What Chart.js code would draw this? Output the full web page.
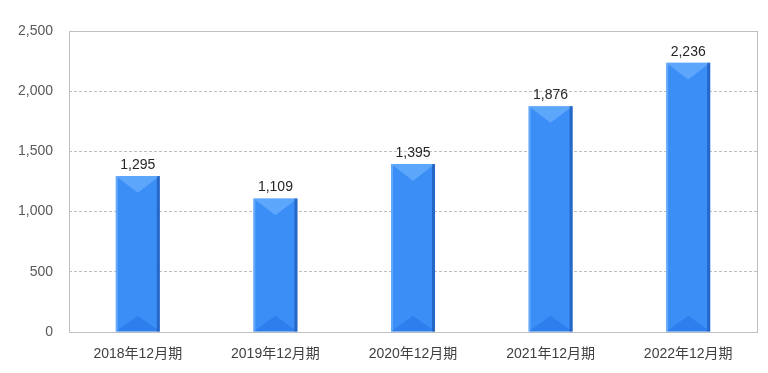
<!DOCTYPE html>
<html><head><meta charset="utf-8">
<script src="https://cdn.jsdelivr.net/npm/chart.js@4/dist/chart.umd.min.js"></script>
<style>html,body{margin:0;padding:0;background:#fff;}#wrap{width:768px;height:373px;}</style>
</head><body><div id="wrap"><canvas id="c" width="768" height="373"></canvas></div>
<script>
const categories = ["2018年12月期","2019年12月期","2020年12月期","2021年12月期","2022年12月期"];
const values = [1295, 1109, 1395, 1876, 2236];
const yTicks = [0, 500, 1000, 1500, 2000, 2500];

const FONT = "'Liberation Sans','Noto Sans CJK JP',sans-serif";

const bevelPlugin = {
  id: 'bevel',
  afterDatasetsDraw(chart) {
    const ctx = chart.ctx;
    const meta = chart.getDatasetMeta(0);
    meta.data.forEach((bar, i) => {
      const l = bar.x - bar.width / 2, r = bar.x + bar.width / 2;
      const t = bar.y, b = bar.base;
      const w = r - l;
      ctx.save();
      // top bevel
      ctx.fillStyle = 'rgba(125,190,255,0.5)';
      ctx.beginPath(); ctx.moveTo(l, t); ctx.lineTo(r, t); ctx.lineTo(bar.x, t + w * 0.38); ctx.closePath(); ctx.fill();
      // bottom bevel
      ctx.fillStyle = 'rgba(30,105,225,0.4)';
      ctx.beginPath(); ctx.moveTo(l, b); ctx.lineTo(r, b); ctx.lineTo(bar.x, b - w * 0.36); ctx.closePath(); ctx.fill();
      // right dark edge
      ctx.fillStyle = 'rgba(20,70,160,0.55)';
      ctx.fillRect(r - 3, t, 3, b - t);
      // left light edge
      ctx.fillStyle = 'rgba(140,195,255,0.5)';
      ctx.fillRect(l, t, 2, b - t);
      // label
      ctx.fillStyle = '#262626';
      ctx.font = "14px " + FONT;
      ctx.textAlign = 'center'; ctx.textBaseline = 'bottom';
      ctx.fillText(values[i].toLocaleString('en-US'), bar.x, t - 4);
      ctx.restore();
    });
  }
};

const framePlugin = {
  id: 'frame',
  beforeDatasetsDraw(chart) {
    const a = chart.chartArea, ctx = chart.ctx;
    ctx.save();
    ctx.strokeStyle = '#bfbfbf'; ctx.lineWidth = 1;
    ctx.strokeRect(Math.round(a.left) + 0.5, Math.round(a.top) + 0.5, Math.round(a.right - a.left), Math.round(a.bottom - a.top));
    ctx.restore();
  }
};

new Chart(document.getElementById('c'), {
  type: 'bar',
  data: {
    labels: categories,
    datasets: [{
      data: values,
      backgroundColor(ctx) {
        const el = ctx.element;
        if (!el || el.x === undefined) return '#3a8ef6';
        const c = ctx.chart.ctx;
        const w = el.width || 44;
        const g = c.createLinearGradient(el.x - w / 2, 0, el.x + w / 2, 0);
        g.addColorStop(0, '#5aa4fb');
        g.addColorStop(0.4, '#388df7');
        g.addColorStop(0.85, '#2d7cec');
        g.addColorStop(1, '#2463cc');
        return g;
      },
      borderWidth: 0,
      barPercentage: 0.32,
      categoryPercentage: 1.0
    }]
  },
  options: {
    responsive: false,
    animation: false,
    layout: { padding: { left: 0, right: 11, top: 31, bottom: 4 } },
    plugins: { legend: { display: false }, tooltip: { enabled: false } },
    scales: {
      x: {
        grid: { display: false, drawTicks: false },
        border: { display: true, color: '#bfbfbf' },
        ticks: { color: '#404040', font: { size: 14, family: FONT }, padding: 14, maxRotation: 0 },
        afterFit(s) { s.height = 37; }
      },
      y: {
        min: 0, max: 2500,
        afterBuildTicks(s) { s.ticks = yTicks.map(v => ({ value: v })); },
        grid: { color: '#bfbfbf', drawTicks: false },
        border: { display: false, dash: [3, 2] },
        ticks: { color: '#595959', font: { size: 14, family: FONT }, padding: 16,
          callback: v => v.toLocaleString('en-US') },
        afterFit(s) { s.width = 69; }
      }
    }
  },
  plugins: [framePlugin, bevelPlugin]
});
</script>
</body></html>
